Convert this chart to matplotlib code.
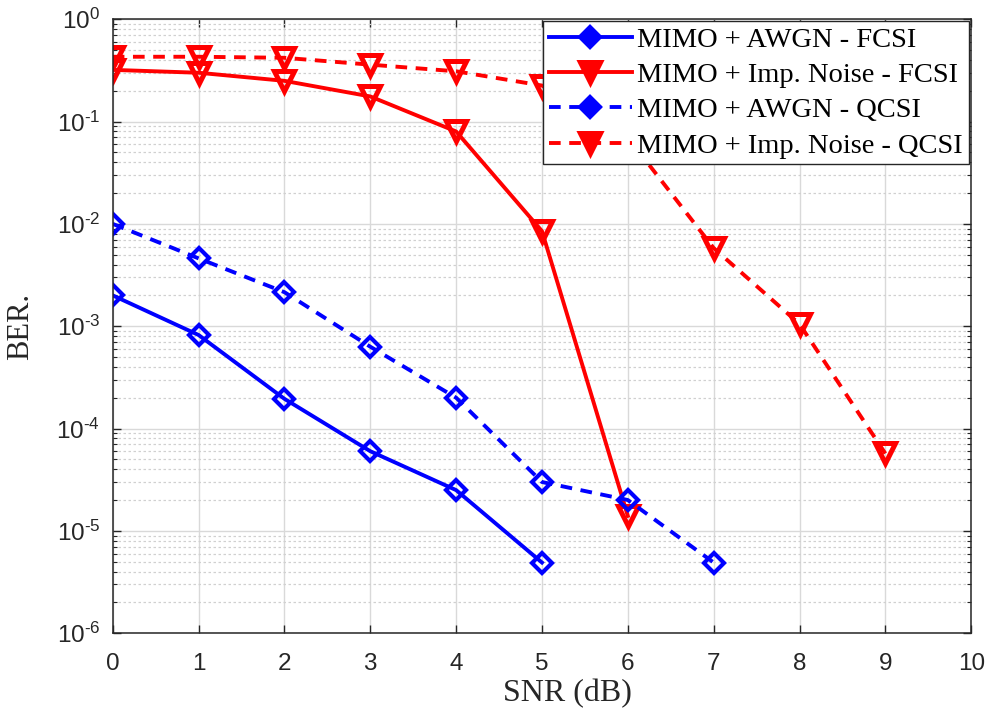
import matplotlib
matplotlib.use("Agg")
import matplotlib.pyplot as plt
from matplotlib.ticker import LogLocator, NullFormatter, FixedLocator, FuncFormatter
import math

plt.rcParams['mathtext.fontset'] = 'custom'
plt.rcParams['mathtext.rm'] = 'Liberation Sans'
plt.rcParams['mathtext.it'] = 'Liberation Sans'
plt.rcParams['mathtext.bf'] = 'Liberation Sans'

snr_awgn_fcsi = [0, 1, 2, 3, 4, 5]
ber_awgn_fcsi = [2.0e-3, 8.2e-4, 1.95e-4, 6.0e-5, 2.5e-5, 4.9e-6]

snr_imp_fcsi = [0, 1, 2, 3, 4, 5, 6]
ber_imp_fcsi = [0.32, 0.30, 0.25, 0.176, 0.080, 0.0085, 1.4e-5]

snr_awgn_qcsi = [0, 1, 2, 3, 4, 5, 6, 7]
ber_awgn_qcsi = [1.0e-2, 4.6e-3, 2.15e-3, 6.3e-4, 2.0e-4, 3.0e-5, 2.0e-5, 4.9e-6]

snr_imp_qcsi = [0, 1, 2, 3, 4, 5, 6, 7, 8, 9]
ber_imp_qcsi = [0.43, 0.43, 0.42, 0.36, 0.31, 0.225, 0.07, 5.8e-3, 1.05e-3, 5.7e-5]

x_ticks = list(range(0, 11))
y_ticks = [1e-6, 1e-5, 1e-4, 1e-3, 1e-2, 1e-1, 1e0]

labels = ['MIMO + AWGN - FCSI', 'MIMO + Imp. Noise - FCSI',
          'MIMO + AWGN - QCSI', 'MIMO + Imp. Noise - QCSI']

fig = plt.figure(figsize=(9.89, 7.13), dpi=100)
ax = fig.add_axes([0.114, 0.112, 0.868, 0.861])

lw = 2.8
ax.plot(snr_awgn_fcsi, ber_awgn_fcsi, color='#0000ff', ls='-', lw=lw, marker='D',
        ms=10.5, mfc='none', mew=3.0, label=labels[0])
ax.plot(snr_imp_fcsi, ber_imp_fcsi, color='#ff0000', ls='-', lw=lw, marker='v',
        ms=14, mfc='none', mew=3.6, label=labels[1])
ax.plot(snr_awgn_qcsi, ber_awgn_qcsi, color='#0000ff', ls=(0, (3, 2.2)), lw=lw, marker='D',
        ms=10.5, mfc='none', mew=3.0, label=labels[2])
ax.plot(snr_imp_qcsi, ber_imp_qcsi, color='#ff0000', ls=(0, (3, 2.2)), lw=lw, marker='v',
        ms=14, mfc='none', mew=3.6, label=labels[3])

ax.set_yscale('log')
ax.set_xlim(0, 10)
ax.set_ylim(1e-6, 1)
ax.xaxis.set_major_locator(FixedLocator(x_ticks))
ax.yaxis.set_major_locator(FixedLocator(y_ticks))
ax.yaxis.set_minor_locator(LogLocator(base=10, subs=range(2, 10), numticks=100))
ax.yaxis.set_minor_formatter(NullFormatter())


def fmt(v, pos):
    e = int(round(math.log10(v)))
    if e < 0:
        return r'$10^{\text{-}%d}$' % (-e)
    return r'$10^{%d}$' % e


ax.yaxis.set_major_formatter(FuncFormatter(fmt))

ax.grid(True, which='major', color='#d9d9d9', lw=1.0, ls='-')
ax.grid(True, which='minor', axis='y', color='#d0d0d0', lw=0.9, ls=(0, (2, 2)))
ax.set_axisbelow(True)

ax.tick_params(which='both', direction='in', top=True, right=True, colors='#262626')
ax.tick_params(which='major', length=6, width=1.0, labelsize=17.5)
ax.tick_params(axis='x', which='major', pad=14)
ax.tick_params(axis='y', which='major', pad=9)
ax.tick_params(which='minor', length=3, width=0.8)
for lab in ax.get_xticklabels() + ax.get_yticklabels():
    lab.set_fontfamily('Liberation Sans')
    lab.set_color('#262626')
for s in ax.spines.values():
    s.set_color('#262626')
    s.set_linewidth(1.1)

ax.set_xlabel('SNR (dB)', fontfamily='Liberation Serif', fontsize=23, color='#262626')
ax.xaxis.set_label_coords(0.53, -0.074)
ax.set_ylabel('BER.', fontfamily='Liberation Serif', fontsize=22, color='#262626')
ax.yaxis.set_label_coords(-0.090, 0.5)

leg = ax.legend(loc='upper right', bbox_to_anchor=(0.997, 0.997), borderaxespad=0,
                prop={'family': 'Liberation Serif', 'size': 20.5}, fancybox=False,
                framealpha=1, edgecolor='#262626', handlelength=2.9, handletextpad=0.2,
                labelspacing=0.33, borderpad=0.2)
leg.get_frame().set_linewidth(1.0)
for h in leg.get_lines():
    h.set_markerfacecolor(h.get_color())

fig.savefig('out.png', dpi=100)
